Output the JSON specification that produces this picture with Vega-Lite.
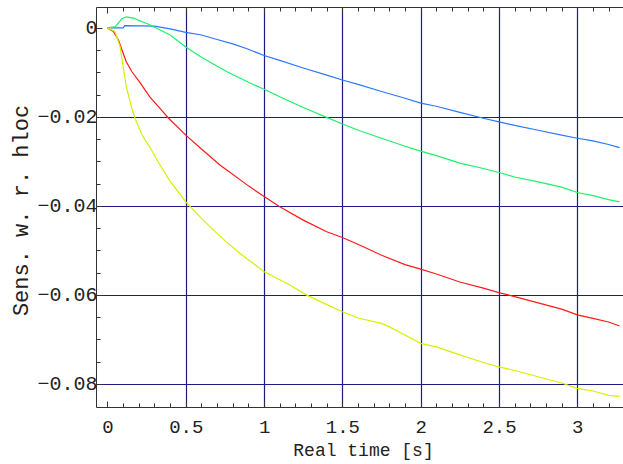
{
  "$schema": "https://vega.github.io/schema/vega-lite/v6.json",
  "width": 527,
  "height": 400,
  "autosize": {"type": "none"},
  "padding": {"left": 96, "top": 7, "right": 0, "bottom": 57},
  "background": "white",
  "config": {"view": {"stroke": null}, "font": "Liberation Mono"},
  "resolve": {"scale": {"x": "independent"}, "axis": {"x": "independent"}},
  "layer": [
    {
      "data": {
        "values": [
          {"t": 0, "s": 0, "series": "s1"},
          {"t": 0.1, "s": 0, "series": "s1"},
          {"t": 0.11, "s": 0.0005, "series": "s1"},
          {"t": 0.3, "s": 0.0004, "series": "s1"},
          {"t": 0.4, "s": -0.0002, "series": "s1"},
          {"t": 0.5, "s": -0.001, "series": "s1"},
          {"t": 0.6, "s": -0.0016, "series": "s1"},
          {"t": 0.7, "s": -0.0026, "series": "s1"},
          {"t": 0.8, "s": -0.0036, "series": "s1"},
          {"t": 0.9, "s": -0.0048, "series": "s1"},
          {"t": 1.0, "s": -0.0062, "series": "s1"},
          {"t": 1.1, "s": -0.0073, "series": "s1"},
          {"t": 1.25, "s": -0.009, "series": "s1"},
          {"t": 1.4, "s": -0.0106, "series": "s1"},
          {"t": 1.5, "s": -0.0117, "series": "s1"},
          {"t": 1.6, "s": -0.0127, "series": "s1"},
          {"t": 1.75, "s": -0.0143, "series": "s1"},
          {"t": 1.9, "s": -0.0158, "series": "s1"},
          {"t": 2.0, "s": -0.0169, "series": "s1"},
          {"t": 2.1, "s": -0.0176, "series": "s1"},
          {"t": 2.25, "s": -0.019, "series": "s1"},
          {"t": 2.4, "s": -0.0203, "series": "s1"},
          {"t": 2.5, "s": -0.0211, "series": "s1"},
          {"t": 2.6, "s": -0.0219, "series": "s1"},
          {"t": 2.75, "s": -0.023, "series": "s1"},
          {"t": 2.9, "s": -0.0241, "series": "s1"},
          {"t": 3.0, "s": -0.0248, "series": "s1"},
          {"t": 3.1, "s": -0.0254, "series": "s1"},
          {"t": 3.2, "s": -0.0262, "series": "s1"},
          {"t": 3.27, "s": -0.0269, "series": "s1"},

          {"t": 0, "s": 0, "series": "s2"},
          {"t": 0.05, "s": 0.0003, "series": "s2"},
          {"t": 0.09, "s": 0.002, "series": "s2"},
          {"t": 0.12, "s": 0.0025, "series": "s2"},
          {"t": 0.165, "s": 0.0022, "series": "s2"},
          {"t": 0.27, "s": 0.0007, "series": "s2"},
          {"t": 0.4, "s": -0.0016, "series": "s2"},
          {"t": 0.5, "s": -0.0043, "series": "s2"},
          {"t": 0.6, "s": -0.0066, "series": "s2"},
          {"t": 0.76, "s": -0.0098, "series": "s2"},
          {"t": 0.9, "s": -0.0122, "series": "s2"},
          {"t": 1.0, "s": -0.0138, "series": "s2"},
          {"t": 1.12, "s": -0.0158, "series": "s2"},
          {"t": 1.25, "s": -0.0179, "series": "s2"},
          {"t": 1.4, "s": -0.0201, "series": "s2"},
          {"t": 1.5, "s": -0.0216, "series": "s2"},
          {"t": 1.61, "s": -0.0231, "series": "s2"},
          {"t": 1.75, "s": -0.0248, "series": "s2"},
          {"t": 1.9, "s": -0.0266, "series": "s2"},
          {"t": 2.0, "s": -0.0277, "series": "s2"},
          {"t": 2.1, "s": -0.0287, "series": "s2"},
          {"t": 2.25, "s": -0.0304, "series": "s2"},
          {"t": 2.4, "s": -0.0316, "series": "s2"},
          {"t": 2.5, "s": -0.0325, "series": "s2"},
          {"t": 2.6, "s": -0.0335, "series": "s2"},
          {"t": 2.75, "s": -0.0346, "series": "s2"},
          {"t": 2.9, "s": -0.0358, "series": "s2"},
          {"t": 3.0, "s": -0.037, "series": "s2"},
          {"t": 3.1, "s": -0.0377, "series": "s2"},
          {"t": 3.2, "s": -0.0386, "series": "s2"},
          {"t": 3.27, "s": -0.0391, "series": "s2"},

          {"t": 0, "s": 0, "series": "s3"},
          {"t": 0.037, "s": -0.0008, "series": "s3"},
          {"t": 0.07, "s": -0.0027, "series": "s3"},
          {"t": 0.1, "s": -0.0057, "series": "s3"},
          {"t": 0.12, "s": -0.0076, "series": "s3"},
          {"t": 0.155, "s": -0.0098, "series": "s3"},
          {"t": 0.21, "s": -0.0124, "series": "s3"},
          {"t": 0.27, "s": -0.0155, "series": "s3"},
          {"t": 0.335, "s": -0.0181, "series": "s3"},
          {"t": 0.39, "s": -0.0203, "series": "s3"},
          {"t": 0.5, "s": -0.0241, "series": "s3"},
          {"t": 0.6, "s": -0.0272, "series": "s3"},
          {"t": 0.718, "s": -0.0308, "series": "s3"},
          {"t": 0.9, "s": -0.0355, "series": "s3"},
          {"t": 1.0, "s": -0.0379, "series": "s3"},
          {"t": 1.1, "s": -0.0402, "series": "s3"},
          {"t": 1.25, "s": -0.0432, "series": "s3"},
          {"t": 1.4, "s": -0.0458, "series": "s3"},
          {"t": 1.5, "s": -0.0471, "series": "s3"},
          {"t": 1.61, "s": -0.0488, "series": "s3"},
          {"t": 1.75, "s": -0.0511, "series": "s3"},
          {"t": 1.9, "s": -0.0532, "series": "s3"},
          {"t": 2.0, "s": -0.0542, "series": "s3"},
          {"t": 2.1, "s": -0.0553, "series": "s3"},
          {"t": 2.25, "s": -0.0571, "series": "s3"},
          {"t": 2.4, "s": -0.0585, "series": "s3"},
          {"t": 2.5, "s": -0.0595, "series": "s3"},
          {"t": 2.6, "s": -0.0604, "series": "s3"},
          {"t": 2.75, "s": -0.0618, "series": "s3"},
          {"t": 2.9, "s": -0.0632, "series": "s3"},
          {"t": 3.0, "s": -0.0645, "series": "s3"},
          {"t": 3.1, "s": -0.0653, "series": "s3"},
          {"t": 3.2, "s": -0.0661, "series": "s3"},
          {"t": 3.27, "s": -0.067, "series": "s3"},

          {"t": 0, "s": 0, "series": "s4"},
          {"t": 0.048, "s": -0.0008, "series": "s4"},
          {"t": 0.08, "s": -0.0042, "series": "s4"},
          {"t": 0.1, "s": -0.0087, "series": "s4"},
          {"t": 0.12, "s": -0.0132, "series": "s4"},
          {"t": 0.155, "s": -0.018, "series": "s4"},
          {"t": 0.176, "s": -0.0203, "series": "s4"},
          {"t": 0.22, "s": -0.024, "series": "s4"},
          {"t": 0.28, "s": -0.0274, "series": "s4"},
          {"t": 0.335, "s": -0.0308, "series": "s4"},
          {"t": 0.4, "s": -0.0345, "series": "s4"},
          {"t": 0.5, "s": -0.0391, "series": "s4"},
          {"t": 0.6, "s": -0.0428, "series": "s4"},
          {"t": 0.675, "s": -0.0454, "series": "s4"},
          {"t": 0.75, "s": -0.0478, "series": "s4"},
          {"t": 0.846, "s": -0.0507, "series": "s4"},
          {"t": 1.0, "s": -0.0548, "series": "s4"},
          {"t": 1.1, "s": -0.0566, "series": "s4"},
          {"t": 1.165, "s": -0.0578, "series": "s4"},
          {"t": 1.27, "s": -0.06, "series": "s4"},
          {"t": 1.4, "s": -0.0622, "series": "s4"},
          {"t": 1.5, "s": -0.0638, "series": "s4"},
          {"t": 1.6, "s": -0.0652, "series": "s4"},
          {"t": 1.75, "s": -0.0664, "series": "s4"},
          {"t": 1.8, "s": -0.0672, "series": "s4"},
          {"t": 1.9, "s": -0.069, "series": "s4"},
          {"t": 2.0, "s": -0.0709, "series": "s4"},
          {"t": 2.1, "s": -0.0717, "series": "s4"},
          {"t": 2.25, "s": -0.0735, "series": "s4"},
          {"t": 2.4, "s": -0.0752, "series": "s4"},
          {"t": 2.5, "s": -0.0762, "series": "s4"},
          {"t": 2.6, "s": -0.077, "series": "s4"},
          {"t": 2.75, "s": -0.0784, "series": "s4"},
          {"t": 2.9, "s": -0.0798, "series": "s4"},
          {"t": 3.0, "s": -0.081, "series": "s4"},
          {"t": 3.1, "s": -0.0816, "series": "s4"},
          {"t": 3.2, "s": -0.0826, "series": "s4"},
          {"t": 3.27, "s": -0.0828, "series": "s4"}
        ]
      },
      "mark": {"type": "line", "strokeWidth": 1.2, "clip": true},
      "encoding": {
        "x": {
          "field": "t",
          "type": "quantitative",
          "scale": {"domain": [-0.0734, 3.2918], "nice": false, "zero": false},
          "axis": {
            "orient": "bottom",
            "values": [0, 0.1, 0.2, 0.3, 0.4, 0.5, 0.6, 0.7, 0.8, 0.9, 1, 1.1, 1.2, 1.3, 1.4, 1.5, 1.6, 1.7, 1.8, 1.9, 2, 2.1, 2.2, 2.3, 2.4, 2.5, 2.6, 2.7, 2.8, 2.9, 3, 3.1, 3.2],
            "labelExpr": "abs(datum.value*2 - round(datum.value*2)) < 0.000001 ? format(datum.value, '~g') : ''",
            "labelFont": "Liberation Mono",
            "labelFontSize": 19,
            "labelColor": "#222222",
            "labelPadding": 16,
            "labelOverlap": false,
            "labelFlush": false,
            "grid": true,
            "gridColor": {"condition": {"test": "datum.value > 0.01 && abs(datum.value*2 - round(datum.value*2)) < 0.000001", "value": "#1c1c84"}, "value": "transparent"},
            "gridWidth": 1.2,
            "tickSize": {"condition": {"test": "abs(datum.value*2 - round(datum.value*2)) < 0.000001", "value": -6}, "value": -4},
            "tickColor": "#333333",
            "domainColor": "#333333",
            "title": "Real time [s]",
            "titleFont": "Liberation Mono",
            "titleFontSize": 18,
            "titleFontWeight": "normal",
            "titleColor": "#222222",
            "titleX": 267,
            "titleY": 48,
            "titleAlign": "center",
            "titleBaseline": "alphabetic"
          }
        },
        "y": {
          "field": "s",
          "type": "quantitative",
          "scale": {"domain": [-0.0852, 0.0047], "nice": false, "zero": false},
          "axis": {
            "values": [0, -0.005, -0.01, -0.015, -0.02, -0.025, -0.03, -0.035, -0.04, -0.045, -0.05, -0.055, -0.06, -0.065, -0.07, -0.075, -0.08],
            "labelExpr": "abs(datum.value*50 - round(datum.value*50)) < 0.000001 ? format(datum.value, '.2~f') : ''",
            "labelFont": "Liberation Mono",
            "labelFontSize": 20,
            "labelColor": "#222222",
            "labelPadding": 5,
            "labelOverlap": false,
            "labelFlush": false,
            "grid": true,
            "gridColor": {"condition": {"test": "datum.value < -0.01 && abs(datum.value*50 - round(datum.value*50)) < 0.000001", "value": "#1c1c84"}, "value": "transparent"},
            "gridWidth": 1.2,
            "tickSize": {"condition": {"test": "abs(datum.value*50 - round(datum.value*50)) < 0.000001", "value": -6}, "value": -4},
            "tickColor": "#333333",
            "domainColor": "#333333",
            "title": "Sens. w. r. hloc",
            "titleFont": "Liberation Mono",
            "titleFontSize": 22,
            "titleFontWeight": "normal",
            "titleColor": "#222222",
            "titleX": -69,
            "titleY": 203,
            "titleAngle": -90,
            "titleAlign": "center",
            "titleBaseline": "alphabetic"
          }
        },
        "color": {
          "field": "series",
          "type": "nominal",
          "scale": {"domain": ["s1", "s2", "s3", "s4"], "range": ["#2a78ff", "#1ef06a", "#ff1a1a", "#d6f000"]},
          "legend": null
        }
      }
    },
    {
      "mark": {"type": "rule", "opacity": 0},
      "encoding": {
        "x": {
          "datum": 0,
          "type": "quantitative",
          "scale": {"domain": [-0.0734, 3.2918], "nice": false, "zero": false},
          "axis": {
            "orient": "top",
            "values": [0, 0.1, 0.2, 0.3, 0.4, 0.5, 0.6, 0.7, 0.8, 0.9, 1, 1.1, 1.2, 1.3, 1.4, 1.5, 1.6, 1.7, 1.8, 1.9, 2, 2.1, 2.2, 2.3, 2.4, 2.5, 2.6, 2.7, 2.8, 2.9, 3, 3.1, 3.2],
            "labels": false,
            "grid": false,
            "title": null,
            "tickSize": {"condition": {"test": "abs(datum.value*2 - round(datum.value*2)) < 0.000001", "value": -6}, "value": -4},
            "tickColor": "#333333",
            "domainColor": "#333333"
          }
        }
      }
    }
  ]
}
